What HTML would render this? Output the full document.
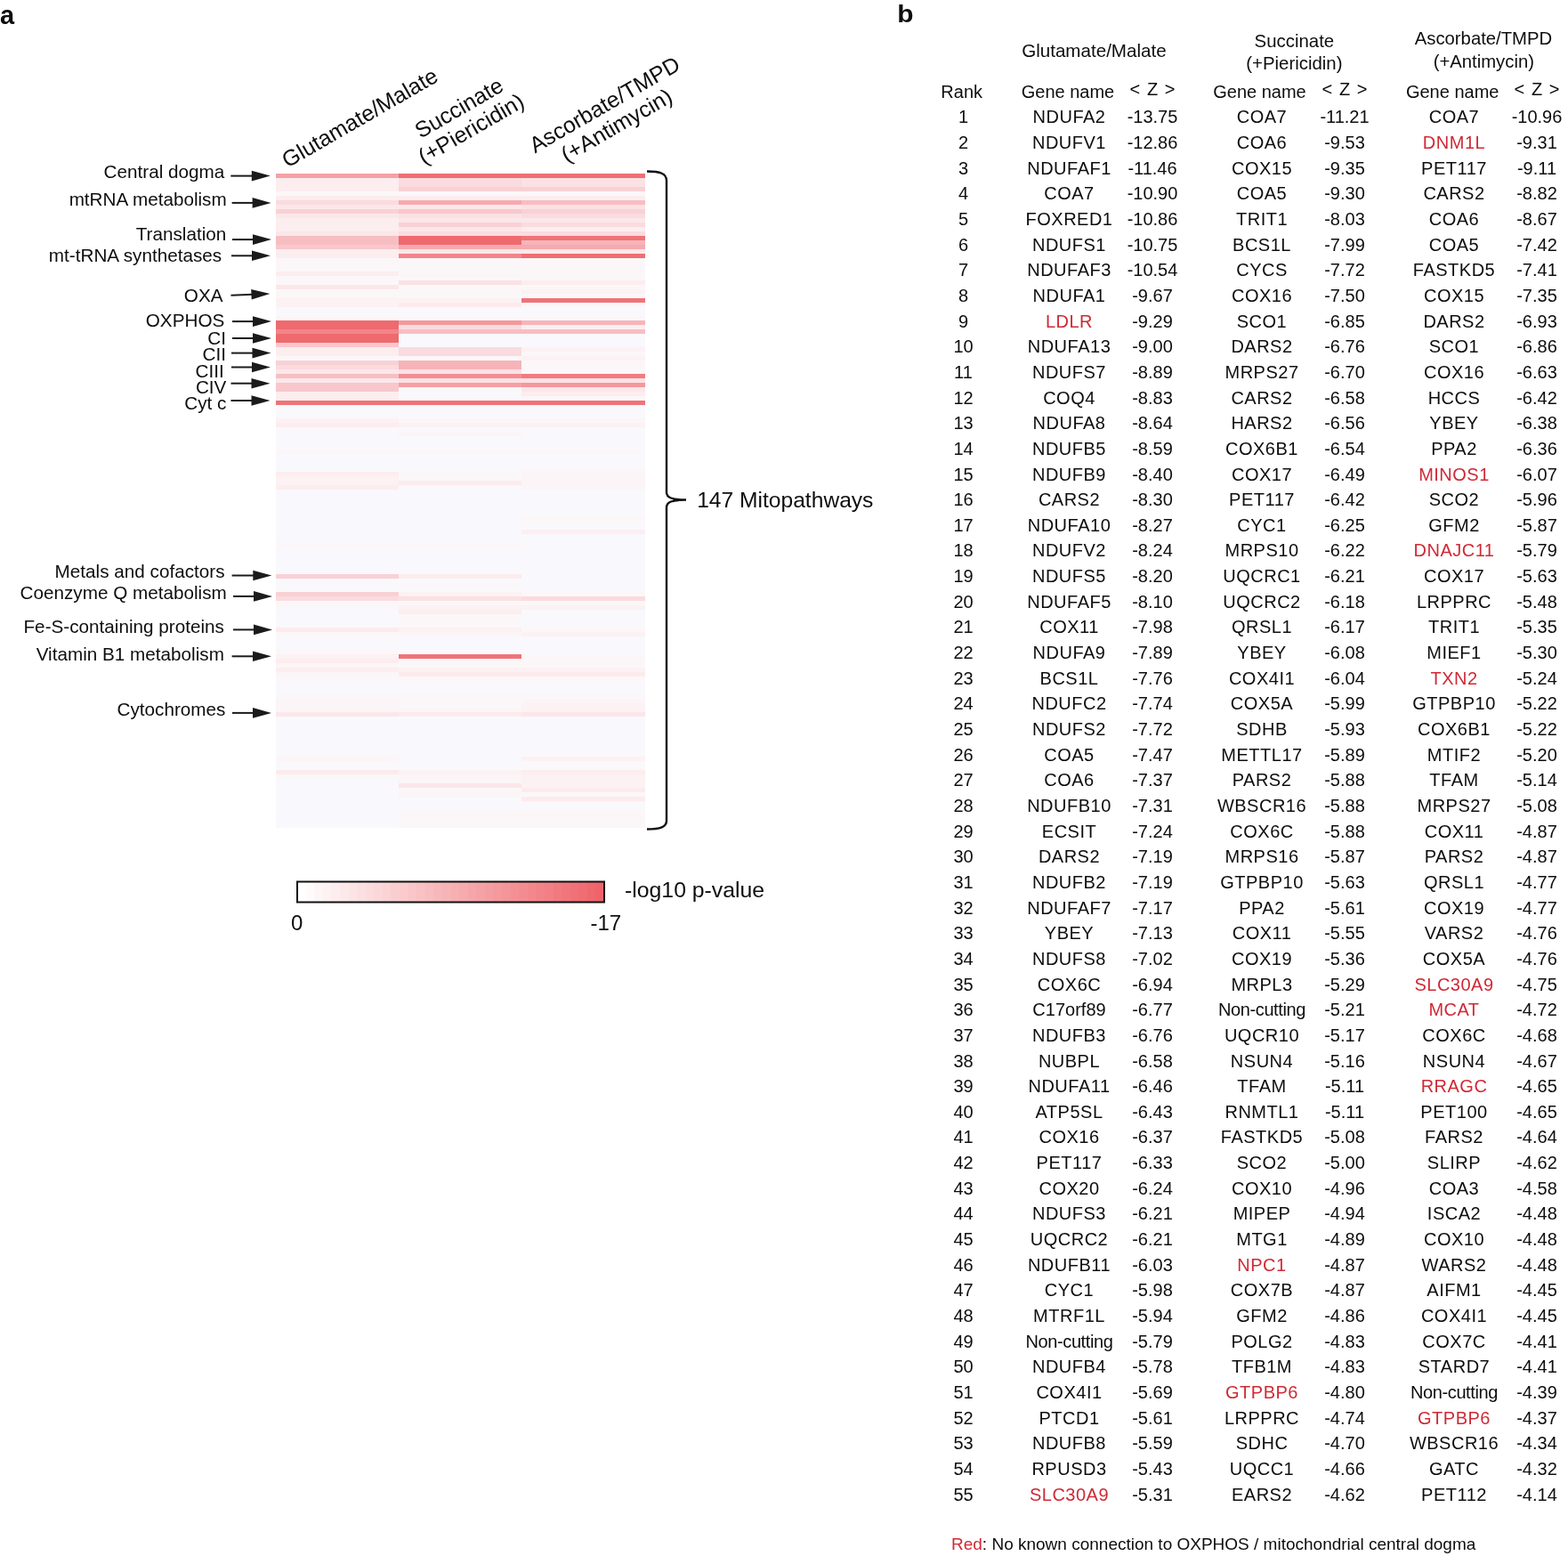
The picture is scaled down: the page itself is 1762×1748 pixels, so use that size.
<!DOCTYPE html><html><head><meta charset="utf-8"><title>Mitopathways figure</title>
<style>html,body{margin:0;padding:0;background:#fff;}svg{display:block;}text{font-family:'Liberation Sans', Arial, Helvetica, sans-serif;fill:#0d0d0d;}</style></head><body>
<svg width="1762" height="1748" viewBox="0 0 1762 1748">
<rect x="0" y="0" width="1762" height="1748" fill="#fff"/>
<text x="0" y="26.9" font-size="29" font-weight="bold">a</text>
<text transform="translate(1008.3 24.9) scale(1.05 1)" font-size="28.5" font-weight="bold">b</text>
<g shape-rendering="crispEdges">
<rect x="310" y="194.5" width="137.5" height="5.0" fill="#f4a1a6"/>
<rect x="447.5" y="194.5" width="138.5" height="5.0" fill="#ef6e72"/>
<rect x="586" y="194.5" width="139" height="5.0" fill="#ef6e72"/>
<rect x="310" y="199.5" width="137.5" height="5.0" fill="#fcedef"/>
<rect x="447.5" y="199.5" width="138.5" height="5.0" fill="#fadbdf"/>
<rect x="586" y="199.5" width="139" height="5.0" fill="#fbe1e4"/>
<rect x="310" y="204.5" width="137.5" height="5.0" fill="#fcedef"/>
<rect x="447.5" y="204.5" width="138.5" height="5.0" fill="#fadbdf"/>
<rect x="586" y="204.5" width="139" height="5.0" fill="#fbe1e4"/>
<rect x="310" y="209.5" width="137.5" height="5.0" fill="#fcedef"/>
<rect x="447.5" y="209.5" width="138.5" height="5.0" fill="#f9d1d5"/>
<rect x="586" y="209.5" width="139" height="5.0" fill="#f9d1d5"/>
<rect x="310" y="214.5" width="137.5" height="5.0" fill="#fbf7f9"/>
<rect x="447.5" y="214.5" width="138.5" height="5.0" fill="#fbf7f9"/>
<rect x="586" y="214.5" width="139" height="5.0" fill="#fbf7f9"/>
<rect x="310" y="219.5" width="137.5" height="5.0" fill="#fcedef"/>
<rect x="447.5" y="219.5" width="138.5" height="5.0" fill="#fcedef"/>
<rect x="586" y="219.5" width="139" height="5.0" fill="#fcedef"/>
<rect x="310" y="224.5" width="137.5" height="5.0" fill="#fadbdf"/>
<rect x="447.5" y="224.5" width="138.5" height="5.0" fill="#f5aaaf"/>
<rect x="586" y="224.5" width="139" height="5.0" fill="#f7bec2"/>
<rect x="310" y="229.5" width="137.5" height="5.0" fill="#fbe7ea"/>
<rect x="447.5" y="229.5" width="138.5" height="5.0" fill="#fbe7ea"/>
<rect x="586" y="229.5" width="139" height="5.0" fill="#fbe1e4"/>
<rect x="310" y="234.5" width="137.5" height="5.0" fill="#f9d1d5"/>
<rect x="447.5" y="234.5" width="138.5" height="5.0" fill="#f8c7cc"/>
<rect x="586" y="234.5" width="139" height="5.0" fill="#f9d1d5"/>
<rect x="310" y="239.5" width="137.5" height="5.0" fill="#fbe7ea"/>
<rect x="447.5" y="239.5" width="138.5" height="5.0" fill="#fbe1e4"/>
<rect x="586" y="239.5" width="139" height="5.0" fill="#fadbdf"/>
<rect x="310" y="244.5" width="137.5" height="5.0" fill="#fcedef"/>
<rect x="447.5" y="244.5" width="138.5" height="5.0" fill="#fbe7ea"/>
<rect x="586" y="244.5" width="139" height="5.0" fill="#fbe7ea"/>
<rect x="310" y="249.5" width="137.5" height="5.0" fill="#fcedef"/>
<rect x="447.5" y="249.5" width="138.5" height="5.0" fill="#f9d1d5"/>
<rect x="586" y="249.5" width="139" height="5.0" fill="#fadbdf"/>
<rect x="310" y="254.5" width="137.5" height="5.0" fill="#fcedef"/>
<rect x="447.5" y="254.5" width="138.5" height="5.0" fill="#fbe7ea"/>
<rect x="586" y="254.5" width="139" height="5.0" fill="#fcedef"/>
<rect x="310" y="259.5" width="137.5" height="5.0" fill="#fbe7ea"/>
<rect x="447.5" y="259.5" width="138.5" height="5.0" fill="#fadbdf"/>
<rect x="586" y="259.5" width="139" height="5.0" fill="#fadbdf"/>
<rect x="310" y="264.5" width="137.5" height="5.0" fill="#f7bec2"/>
<rect x="447.5" y="264.5" width="138.5" height="5.0" fill="#ee6a6e"/>
<rect x="586" y="264.5" width="139" height="5.0" fill="#ef7377"/>
<rect x="310" y="269.5" width="137.5" height="5.0" fill="#f7bec2"/>
<rect x="447.5" y="269.5" width="138.5" height="5.0" fill="#ee6a6e"/>
<rect x="586" y="269.5" width="139" height="5.0" fill="#f6b4b9"/>
<rect x="310" y="274.5" width="137.5" height="5.0" fill="#f8c7cc"/>
<rect x="447.5" y="274.5" width="138.5" height="5.0" fill="#f5aaaf"/>
<rect x="586" y="274.5" width="139" height="5.0" fill="#f5aaaf"/>
<rect x="310" y="279.5" width="137.5" height="5.0" fill="#fcedef"/>
<rect x="447.5" y="279.5" width="138.5" height="5.0" fill="#fbe7ea"/>
<rect x="586" y="279.5" width="139" height="5.0" fill="#fbe7ea"/>
<rect x="310" y="284.5" width="137.5" height="5.0" fill="#fcedef"/>
<rect x="447.5" y="284.5" width="138.5" height="5.0" fill="#f1858a"/>
<rect x="586" y="284.5" width="139" height="5.0" fill="#ef6e72"/>
<rect x="310" y="289.5" width="137.5" height="5.0" fill="#fbf7f9"/>
<rect x="447.5" y="289.5" width="138.5" height="5.0" fill="#fbf7f9"/>
<rect x="586" y="289.5" width="139" height="5.0" fill="#fbf7f9"/>
<rect x="310" y="294.5" width="137.5" height="5.0" fill="#fbf7f9"/>
<rect x="447.5" y="294.5" width="138.5" height="5.0" fill="#fbf7f9"/>
<rect x="586" y="294.5" width="139" height="5.0" fill="#fbf7f9"/>
<rect x="310" y="299.5" width="137.5" height="5.0" fill="#fbf7f9"/>
<rect x="447.5" y="299.5" width="138.5" height="5.0" fill="#fbf7f9"/>
<rect x="586" y="299.5" width="139" height="5.0" fill="#fbf7f9"/>
<rect x="310" y="304.5" width="137.5" height="5.0" fill="#fcedef"/>
<rect x="447.5" y="304.5" width="138.5" height="5.0" fill="#fbf7f9"/>
<rect x="586" y="304.5" width="139" height="5.0" fill="#fbf7f9"/>
<rect x="310" y="309.5" width="137.5" height="5.0" fill="#fbf7f9"/>
<rect x="447.5" y="309.5" width="138.5" height="5.0" fill="#fbf7f9"/>
<rect x="586" y="309.5" width="139" height="5.0" fill="#fbf7f9"/>
<rect x="310" y="314.5" width="137.5" height="5.0" fill="#fbf7f9"/>
<rect x="447.5" y="314.5" width="138.5" height="5.0" fill="#fbe1e4"/>
<rect x="586" y="314.5" width="139" height="5.0" fill="#fcedef"/>
<rect x="310" y="319.5" width="137.5" height="5.0" fill="#fbe7ea"/>
<rect x="447.5" y="319.5" width="138.5" height="5.0" fill="#fbf7f9"/>
<rect x="586" y="319.5" width="139" height="5.0" fill="#fbf7f9"/>
<rect x="310" y="324.5" width="137.5" height="5.0" fill="#fbf7f9"/>
<rect x="447.5" y="324.5" width="138.5" height="5.0" fill="#fbf7f9"/>
<rect x="586" y="324.5" width="139" height="5.0" fill="#fcf1f3"/>
<rect x="310" y="329.5" width="137.5" height="5.0" fill="#fbf7f9"/>
<rect x="447.5" y="329.5" width="138.5" height="5.0" fill="#fbf7f9"/>
<rect x="586" y="329.5" width="139" height="5.0" fill="#fbf7f9"/>
<rect x="310" y="334.5" width="137.5" height="5.0" fill="#fcf1f3"/>
<rect x="447.5" y="334.5" width="138.5" height="5.0" fill="#fcf1f3"/>
<rect x="586" y="334.5" width="139" height="5.0" fill="#ef7377"/>
<rect x="310" y="339.5" width="137.5" height="5.0" fill="#fcf1f3"/>
<rect x="447.5" y="339.5" width="138.5" height="5.0" fill="#fcebed"/>
<rect x="586" y="339.5" width="139" height="5.0" fill="#fbf7f9"/>
<rect x="310" y="344.5" width="137.5" height="5.0" fill="#f9f8fc"/>
<rect x="447.5" y="344.5" width="138.5" height="5.0" fill="#f9f8fc"/>
<rect x="586" y="344.5" width="139" height="5.0" fill="#f9f8fc"/>
<rect x="310" y="349.5" width="137.5" height="5.0" fill="#f9f8fc"/>
<rect x="447.5" y="349.5" width="138.5" height="5.0" fill="#f9f8fc"/>
<rect x="586" y="349.5" width="139" height="5.0" fill="#f9f8fc"/>
<rect x="310" y="354.5" width="137.5" height="5.0" fill="#fbf7f9"/>
<rect x="447.5" y="354.5" width="138.5" height="5.0" fill="#fbf7f9"/>
<rect x="586" y="354.5" width="139" height="5.0" fill="#fbf7f9"/>
<rect x="310" y="359.5" width="137.5" height="5.0" fill="#ee6a6e"/>
<rect x="447.5" y="359.5" width="138.5" height="5.0" fill="#f3989c"/>
<rect x="586" y="359.5" width="139" height="5.0" fill="#f6b4b9"/>
<rect x="310" y="364.5" width="137.5" height="5.0" fill="#ee6a6e"/>
<rect x="447.5" y="364.5" width="138.5" height="5.0" fill="#fadbdf"/>
<rect x="586" y="364.5" width="139" height="5.0" fill="#fcedef"/>
<rect x="310" y="369.5" width="137.5" height="5.0" fill="#f1858a"/>
<rect x="447.5" y="369.5" width="138.5" height="5.0" fill="#f7bec2"/>
<rect x="586" y="369.5" width="139" height="5.0" fill="#f7bec2"/>
<rect x="310" y="374.5" width="137.5" height="5.0" fill="#ee6a6e"/>
<rect x="447.5" y="374.5" width="138.5" height="5.0" fill="#f9f8fc"/>
<rect x="586" y="374.5" width="139" height="5.0" fill="#f9f8fc"/>
<rect x="310" y="379.5" width="137.5" height="5.0" fill="#ee6a6e"/>
<rect x="447.5" y="379.5" width="138.5" height="5.0" fill="#f9f8fc"/>
<rect x="586" y="379.5" width="139" height="5.0" fill="#f9f8fc"/>
<rect x="310" y="384.5" width="137.5" height="5.0" fill="#f8c7cc"/>
<rect x="447.5" y="384.5" width="138.5" height="5.0" fill="#f9f8fc"/>
<rect x="586" y="384.5" width="139" height="5.0" fill="#f9f8fc"/>
<rect x="310" y="389.5" width="137.5" height="5.0" fill="#fcedef"/>
<rect x="447.5" y="389.5" width="138.5" height="5.0" fill="#fadbdf"/>
<rect x="586" y="389.5" width="139" height="5.0" fill="#fcf1f3"/>
<rect x="310" y="394.5" width="137.5" height="5.0" fill="#fcedef"/>
<rect x="447.5" y="394.5" width="138.5" height="5.0" fill="#fadbdf"/>
<rect x="586" y="394.5" width="139" height="5.0" fill="#fbf7f9"/>
<rect x="310" y="399.5" width="137.5" height="5.0" fill="#fbf7f9"/>
<rect x="447.5" y="399.5" width="138.5" height="5.0" fill="#fbf7f9"/>
<rect x="586" y="399.5" width="139" height="5.0" fill="#fcf1f3"/>
<rect x="310" y="404.5" width="137.5" height="5.0" fill="#f9d1d5"/>
<rect x="447.5" y="404.5" width="138.5" height="5.0" fill="#f6b4b9"/>
<rect x="586" y="404.5" width="139" height="5.0" fill="#fbf7f9"/>
<rect x="310" y="409.5" width="137.5" height="5.0" fill="#fadbdf"/>
<rect x="447.5" y="409.5" width="138.5" height="5.0" fill="#f6b4b9"/>
<rect x="586" y="409.5" width="139" height="5.0" fill="#fbf7f9"/>
<rect x="310" y="414.5" width="137.5" height="5.0" fill="#fbe7ea"/>
<rect x="447.5" y="414.5" width="138.5" height="5.0" fill="#fbe1e4"/>
<rect x="586" y="414.5" width="139" height="5.0" fill="#fbf7f9"/>
<rect x="310" y="419.5" width="137.5" height="5.0" fill="#f7bec2"/>
<rect x="447.5" y="419.5" width="138.5" height="5.0" fill="#f28e93"/>
<rect x="586" y="419.5" width="139" height="5.0" fill="#f07c80"/>
<rect x="310" y="424.5" width="137.5" height="5.0" fill="#fbe7ea"/>
<rect x="447.5" y="424.5" width="138.5" height="5.0" fill="#fbe1e4"/>
<rect x="586" y="424.5" width="139" height="5.0" fill="#fbe1e4"/>
<rect x="310" y="429.5" width="137.5" height="5.0" fill="#f8c7cc"/>
<rect x="447.5" y="429.5" width="138.5" height="5.0" fill="#f4a1a6"/>
<rect x="586" y="429.5" width="139" height="5.0" fill="#f3989c"/>
<rect x="310" y="434.5" width="137.5" height="5.0" fill="#f8c7cc"/>
<rect x="447.5" y="434.5" width="138.5" height="5.0" fill="#fbf7f9"/>
<rect x="586" y="434.5" width="139" height="5.0" fill="#fbe7ea"/>
<rect x="310" y="439.5" width="137.5" height="5.0" fill="#fcedef"/>
<rect x="447.5" y="439.5" width="138.5" height="5.0" fill="#f9f8fc"/>
<rect x="586" y="439.5" width="139" height="5.0" fill="#fcedef"/>
<rect x="310" y="444.5" width="137.5" height="5.0" fill="#fcedef"/>
<rect x="447.5" y="444.5" width="138.5" height="5.0" fill="#f9f8fc"/>
<rect x="586" y="444.5" width="139" height="5.0" fill="#fbf7f9"/>
<rect x="310" y="449.5" width="137.5" height="5.0" fill="#ef7377"/>
<rect x="447.5" y="449.5" width="138.5" height="5.0" fill="#ef7377"/>
<rect x="586" y="449.5" width="139" height="5.0" fill="#ef7377"/>
<rect x="310" y="454.5" width="137.5" height="5.0" fill="#f9f8fc"/>
<rect x="447.5" y="454.5" width="138.5" height="5.0" fill="#f9f8fc"/>
<rect x="586" y="454.5" width="139" height="5.0" fill="#f9f8fc"/>
<rect x="310" y="459.5" width="137.5" height="5.0" fill="#f9f8fc"/>
<rect x="447.5" y="459.5" width="138.5" height="5.0" fill="#f9f8fc"/>
<rect x="586" y="459.5" width="139" height="5.0" fill="#f9f8fc"/>
<rect x="310" y="464.5" width="137.5" height="5.0" fill="#f9f8fc"/>
<rect x="447.5" y="464.5" width="138.5" height="5.0" fill="#f9f8fc"/>
<rect x="586" y="464.5" width="139" height="5.0" fill="#f9f8fc"/>
<rect x="310" y="469.5" width="137.5" height="5.0" fill="#fcf1f3"/>
<rect x="447.5" y="469.5" width="138.5" height="5.0" fill="#fbf7f9"/>
<rect x="586" y="469.5" width="139" height="5.0" fill="#fbf7f9"/>
<rect x="310" y="474.5" width="137.5" height="5.0" fill="#fcedef"/>
<rect x="447.5" y="474.5" width="138.5" height="5.0" fill="#fcf1f3"/>
<rect x="586" y="474.5" width="139" height="5.0" fill="#fcf1f3"/>
<rect x="310" y="479.5" width="137.5" height="5.0" fill="#f9f8fc"/>
<rect x="447.5" y="479.5" width="138.5" height="5.0" fill="#f9f8fc"/>
<rect x="586" y="479.5" width="139" height="5.0" fill="#f9f8fc"/>
<rect x="310" y="484.5" width="137.5" height="5.0" fill="#f9f8fc"/>
<rect x="447.5" y="484.5" width="138.5" height="5.0" fill="#fbf5f7"/>
<rect x="586" y="484.5" width="139" height="5.0" fill="#f9f8fc"/>
<rect x="310" y="489.5" width="137.5" height="5.0" fill="#f9f8fc"/>
<rect x="447.5" y="489.5" width="138.5" height="5.0" fill="#f9f8fc"/>
<rect x="586" y="489.5" width="139" height="5.0" fill="#f9f8fc"/>
<rect x="310" y="494.5" width="137.5" height="5.0" fill="#f9f8fc"/>
<rect x="447.5" y="494.5" width="138.5" height="5.0" fill="#f9f8fc"/>
<rect x="586" y="494.5" width="139" height="5.0" fill="#f9f8fc"/>
<rect x="310" y="499.5" width="137.5" height="5.0" fill="#f9f8fc"/>
<rect x="447.5" y="499.5" width="138.5" height="5.0" fill="#f9f8fc"/>
<rect x="586" y="499.5" width="139" height="5.0" fill="#f9f8fc"/>
<rect x="310" y="504.5" width="137.5" height="5.0" fill="#fbf7f9"/>
<rect x="447.5" y="504.5" width="138.5" height="5.0" fill="#fbf7f9"/>
<rect x="586" y="504.5" width="139" height="5.0" fill="#fbf7f9"/>
<rect x="310" y="509.5" width="137.5" height="5.0" fill="#f9f8fc"/>
<rect x="447.5" y="509.5" width="138.5" height="5.0" fill="#f9f8fc"/>
<rect x="586" y="509.5" width="139" height="5.0" fill="#f9f8fc"/>
<rect x="310" y="514.5" width="137.5" height="5.0" fill="#f9f8fc"/>
<rect x="447.5" y="514.5" width="138.5" height="5.0" fill="#f9f8fc"/>
<rect x="586" y="514.5" width="139" height="5.0" fill="#f9f8fc"/>
<rect x="310" y="519.5" width="137.5" height="5.0" fill="#f9f8fc"/>
<rect x="447.5" y="519.5" width="138.5" height="5.0" fill="#f9f8fc"/>
<rect x="586" y="519.5" width="139" height="5.0" fill="#f9f8fc"/>
<rect x="310" y="524.5" width="137.5" height="5.0" fill="#f9f8fc"/>
<rect x="447.5" y="524.5" width="138.5" height="5.0" fill="#f9f8fc"/>
<rect x="586" y="524.5" width="139" height="5.0" fill="#fbf7f9"/>
<rect x="310" y="529.5" width="137.5" height="5.0" fill="#fcedef"/>
<rect x="447.5" y="529.5" width="138.5" height="5.0" fill="#fbf7f9"/>
<rect x="586" y="529.5" width="139" height="5.0" fill="#fbf5f7"/>
<rect x="310" y="534.5" width="137.5" height="5.0" fill="#fcf1f3"/>
<rect x="447.5" y="534.5" width="138.5" height="5.0" fill="#fbf7f9"/>
<rect x="586" y="534.5" width="139" height="5.0" fill="#fbf5f7"/>
<rect x="310" y="539.5" width="137.5" height="5.0" fill="#fcf1f3"/>
<rect x="447.5" y="539.5" width="138.5" height="5.0" fill="#fcebed"/>
<rect x="586" y="539.5" width="139" height="5.0" fill="#fbf5f7"/>
<rect x="310" y="544.5" width="137.5" height="5.0" fill="#fcedef"/>
<rect x="447.5" y="544.5" width="138.5" height="5.0" fill="#f9f8fc"/>
<rect x="586" y="544.5" width="139" height="5.0" fill="#fbf5f7"/>
<rect x="310" y="549.5" width="137.5" height="5.0" fill="#f9f8fc"/>
<rect x="447.5" y="549.5" width="138.5" height="5.0" fill="#f9f8fc"/>
<rect x="586" y="549.5" width="139" height="5.0" fill="#f9f8fc"/>
<rect x="310" y="554.5" width="137.5" height="5.0" fill="#f9f8fc"/>
<rect x="447.5" y="554.5" width="138.5" height="5.0" fill="#f9f8fc"/>
<rect x="586" y="554.5" width="139" height="5.0" fill="#f9f8fc"/>
<rect x="310" y="559.5" width="137.5" height="5.0" fill="#f9f8fc"/>
<rect x="447.5" y="559.5" width="138.5" height="5.0" fill="#f9f8fc"/>
<rect x="586" y="559.5" width="139" height="5.0" fill="#f9f8fc"/>
<rect x="310" y="564.5" width="137.5" height="5.0" fill="#f9f8fc"/>
<rect x="447.5" y="564.5" width="138.5" height="5.0" fill="#f9f8fc"/>
<rect x="586" y="564.5" width="139" height="5.0" fill="#f9f8fc"/>
<rect x="310" y="569.5" width="137.5" height="5.0" fill="#f9f8fc"/>
<rect x="447.5" y="569.5" width="138.5" height="5.0" fill="#f9f8fc"/>
<rect x="586" y="569.5" width="139" height="5.0" fill="#f9f8fc"/>
<rect x="310" y="574.5" width="137.5" height="5.0" fill="#f9f8fc"/>
<rect x="447.5" y="574.5" width="138.5" height="5.0" fill="#f9f8fc"/>
<rect x="586" y="574.5" width="139" height="5.0" fill="#f9f8fc"/>
<rect x="310" y="579.5" width="137.5" height="5.0" fill="#f9f8fc"/>
<rect x="447.5" y="579.5" width="138.5" height="5.0" fill="#f9f8fc"/>
<rect x="586" y="579.5" width="139" height="5.0" fill="#fbf7f9"/>
<rect x="310" y="584.5" width="137.5" height="5.0" fill="#f9f8fc"/>
<rect x="447.5" y="584.5" width="138.5" height="5.0" fill="#f9f8fc"/>
<rect x="586" y="584.5" width="139" height="5.0" fill="#faf8fb"/>
<rect x="310" y="589.5" width="137.5" height="5.0" fill="#f9f8fc"/>
<rect x="447.5" y="589.5" width="138.5" height="5.0" fill="#f9f8fc"/>
<rect x="586" y="589.5" width="139" height="5.0" fill="#faf8fb"/>
<rect x="310" y="594.5" width="137.5" height="5.0" fill="#f9f8fc"/>
<rect x="447.5" y="594.5" width="138.5" height="5.0" fill="#f9f8fc"/>
<rect x="586" y="594.5" width="139" height="5.0" fill="#fceff1"/>
<rect x="310" y="599.5" width="137.5" height="5.0" fill="#f9f8fc"/>
<rect x="447.5" y="599.5" width="138.5" height="5.0" fill="#f9f8fc"/>
<rect x="586" y="599.5" width="139" height="5.0" fill="#f9f8fc"/>
<rect x="310" y="604.5" width="137.5" height="5.0" fill="#f9f8fc"/>
<rect x="447.5" y="604.5" width="138.5" height="5.0" fill="#f9f8fc"/>
<rect x="586" y="604.5" width="139" height="5.0" fill="#f9f8fc"/>
<rect x="310" y="609.5" width="137.5" height="5.0" fill="#fbf7f9"/>
<rect x="447.5" y="609.5" width="138.5" height="5.0" fill="#fbf7f9"/>
<rect x="586" y="609.5" width="139" height="5.0" fill="#faf8fb"/>
<rect x="310" y="614.5" width="137.5" height="5.0" fill="#f9f8fc"/>
<rect x="447.5" y="614.5" width="138.5" height="5.0" fill="#f9f8fc"/>
<rect x="586" y="614.5" width="139" height="5.0" fill="#f9f8fc"/>
<rect x="310" y="619.5" width="137.5" height="5.0" fill="#f9f8fc"/>
<rect x="447.5" y="619.5" width="138.5" height="5.0" fill="#f9f8fc"/>
<rect x="586" y="619.5" width="139" height="5.0" fill="#f9f8fc"/>
<rect x="310" y="624.5" width="137.5" height="5.0" fill="#f9f8fc"/>
<rect x="447.5" y="624.5" width="138.5" height="5.0" fill="#f9f8fc"/>
<rect x="586" y="624.5" width="139" height="5.0" fill="#f9f8fc"/>
<rect x="310" y="629.5" width="137.5" height="5.0" fill="#f9f8fc"/>
<rect x="447.5" y="629.5" width="138.5" height="5.0" fill="#f9f8fc"/>
<rect x="586" y="629.5" width="139" height="5.0" fill="#f9f8fc"/>
<rect x="310" y="634.5" width="137.5" height="5.0" fill="#f9f8fc"/>
<rect x="447.5" y="634.5" width="138.5" height="5.0" fill="#f9f8fc"/>
<rect x="586" y="634.5" width="139" height="5.0" fill="#f9f8fc"/>
<rect x="310" y="639.5" width="137.5" height="5.0" fill="#f9f8fc"/>
<rect x="447.5" y="639.5" width="138.5" height="5.0" fill="#f9f8fc"/>
<rect x="586" y="639.5" width="139" height="5.0" fill="#f9f8fc"/>
<rect x="310" y="644.5" width="137.5" height="5.0" fill="#f9d1d5"/>
<rect x="447.5" y="644.5" width="138.5" height="5.0" fill="#fcebed"/>
<rect x="586" y="644.5" width="139" height="5.0" fill="#f9f8fc"/>
<rect x="310" y="649.5" width="137.5" height="5.0" fill="#f9f8fc"/>
<rect x="447.5" y="649.5" width="138.5" height="5.0" fill="#f9f8fc"/>
<rect x="586" y="649.5" width="139" height="5.0" fill="#f9f8fc"/>
<rect x="310" y="654.5" width="137.5" height="5.0" fill="#f9f8fc"/>
<rect x="447.5" y="654.5" width="138.5" height="5.0" fill="#fbf7f9"/>
<rect x="586" y="654.5" width="139" height="5.0" fill="#f9f8fc"/>
<rect x="310" y="659.5" width="137.5" height="5.0" fill="#faf8fb"/>
<rect x="447.5" y="659.5" width="138.5" height="5.0" fill="#faf8fb"/>
<rect x="586" y="659.5" width="139" height="5.0" fill="#faf8fb"/>
<rect x="310" y="664.5" width="137.5" height="5.0" fill="#f9d1d5"/>
<rect x="447.5" y="664.5" width="138.5" height="5.0" fill="#fcf1f3"/>
<rect x="586" y="664.5" width="139" height="5.0" fill="#fbf7f9"/>
<rect x="310" y="669.5" width="137.5" height="5.0" fill="#fadbdf"/>
<rect x="447.5" y="669.5" width="138.5" height="5.0" fill="#fbe1e4"/>
<rect x="586" y="669.5" width="139" height="5.0" fill="#fadbdf"/>
<rect x="310" y="674.5" width="137.5" height="5.0" fill="#fbf7f9"/>
<rect x="447.5" y="674.5" width="138.5" height="5.0" fill="#fbf7f9"/>
<rect x="586" y="674.5" width="139" height="5.0" fill="#fbf7f9"/>
<rect x="310" y="679.5" width="137.5" height="5.0" fill="#fbf7f9"/>
<rect x="447.5" y="679.5" width="138.5" height="5.0" fill="#fcf1f3"/>
<rect x="586" y="679.5" width="139" height="5.0" fill="#fcf1f3"/>
<rect x="310" y="684.5" width="137.5" height="5.0" fill="#f9f8fc"/>
<rect x="447.5" y="684.5" width="138.5" height="5.0" fill="#fcedef"/>
<rect x="586" y="684.5" width="139" height="5.0" fill="#f9f8fc"/>
<rect x="310" y="689.5" width="137.5" height="5.0" fill="#f9f8fc"/>
<rect x="447.5" y="689.5" width="138.5" height="5.0" fill="#fbf7f9"/>
<rect x="586" y="689.5" width="139" height="5.0" fill="#f9f8fc"/>
<rect x="310" y="694.5" width="137.5" height="5.0" fill="#f9f8fc"/>
<rect x="447.5" y="694.5" width="138.5" height="5.0" fill="#fbf7f9"/>
<rect x="586" y="694.5" width="139" height="5.0" fill="#f9f8fc"/>
<rect x="310" y="699.5" width="137.5" height="5.0" fill="#f9f8fc"/>
<rect x="447.5" y="699.5" width="138.5" height="5.0" fill="#fbf7f9"/>
<rect x="586" y="699.5" width="139" height="5.0" fill="#f9f8fc"/>
<rect x="310" y="704.5" width="137.5" height="5.0" fill="#fcebed"/>
<rect x="447.5" y="704.5" width="138.5" height="5.0" fill="#fcf1f3"/>
<rect x="586" y="704.5" width="139" height="5.0" fill="#fbf7f9"/>
<rect x="310" y="709.5" width="137.5" height="5.0" fill="#fbf7f9"/>
<rect x="447.5" y="709.5" width="138.5" height="5.0" fill="#fbf5f7"/>
<rect x="586" y="709.5" width="139" height="5.0" fill="#fcf1f3"/>
<rect x="310" y="714.5" width="137.5" height="5.0" fill="#f9f8fc"/>
<rect x="447.5" y="714.5" width="138.5" height="5.0" fill="#f9f8fc"/>
<rect x="586" y="714.5" width="139" height="5.0" fill="#f9f8fc"/>
<rect x="310" y="719.5" width="137.5" height="5.0" fill="#f9f8fc"/>
<rect x="447.5" y="719.5" width="138.5" height="5.0" fill="#f9f8fc"/>
<rect x="586" y="719.5" width="139" height="5.0" fill="#f9f8fc"/>
<rect x="310" y="724.5" width="137.5" height="5.0" fill="#f9f8fc"/>
<rect x="447.5" y="724.5" width="138.5" height="5.0" fill="#f9f8fc"/>
<rect x="586" y="724.5" width="139" height="5.0" fill="#f9f8fc"/>
<rect x="310" y="729.5" width="137.5" height="5.0" fill="#fbf7f9"/>
<rect x="447.5" y="729.5" width="138.5" height="5.0" fill="#f9f8fc"/>
<rect x="586" y="729.5" width="139" height="5.0" fill="#f9f8fc"/>
<rect x="310" y="734.5" width="137.5" height="5.0" fill="#fcf1f3"/>
<rect x="447.5" y="734.5" width="138.5" height="5.0" fill="#ef7377"/>
<rect x="586" y="734.5" width="139" height="5.0" fill="#fbf7f9"/>
<rect x="310" y="739.5" width="137.5" height="5.0" fill="#fcedef"/>
<rect x="447.5" y="739.5" width="138.5" height="5.0" fill="#fbf7f9"/>
<rect x="586" y="739.5" width="139" height="5.0" fill="#fbf7f9"/>
<rect x="310" y="744.5" width="137.5" height="5.0" fill="#fbf5f7"/>
<rect x="447.5" y="744.5" width="138.5" height="5.0" fill="#fbf7f9"/>
<rect x="586" y="744.5" width="139" height="5.0" fill="#fbf7f9"/>
<rect x="310" y="749.5" width="137.5" height="5.0" fill="#fcedef"/>
<rect x="447.5" y="749.5" width="138.5" height="5.0" fill="#fcf1f3"/>
<rect x="586" y="749.5" width="139" height="5.0" fill="#fcf1f3"/>
<rect x="310" y="754.5" width="137.5" height="5.0" fill="#fbf5f7"/>
<rect x="447.5" y="754.5" width="138.5" height="5.0" fill="#fcebed"/>
<rect x="586" y="754.5" width="139" height="5.0" fill="#fcebed"/>
<rect x="310" y="759.5" width="137.5" height="5.0" fill="#fbf7f9"/>
<rect x="447.5" y="759.5" width="138.5" height="5.0" fill="#fbf7f9"/>
<rect x="586" y="759.5" width="139" height="5.0" fill="#fbf7f9"/>
<rect x="310" y="764.5" width="137.5" height="5.0" fill="#faf8fb"/>
<rect x="447.5" y="764.5" width="138.5" height="5.0" fill="#faf8fb"/>
<rect x="586" y="764.5" width="139" height="5.0" fill="#faf8fb"/>
<rect x="310" y="769.5" width="137.5" height="5.0" fill="#f9f8fc"/>
<rect x="447.5" y="769.5" width="138.5" height="5.0" fill="#f9f8fc"/>
<rect x="586" y="769.5" width="139" height="5.0" fill="#f9f8fc"/>
<rect x="310" y="774.5" width="137.5" height="5.0" fill="#f9f8fc"/>
<rect x="447.5" y="774.5" width="138.5" height="5.0" fill="#f9f8fc"/>
<rect x="586" y="774.5" width="139" height="5.0" fill="#f9f8fc"/>
<rect x="310" y="779.5" width="137.5" height="5.0" fill="#fbf7f9"/>
<rect x="447.5" y="779.5" width="138.5" height="5.0" fill="#fbf7f9"/>
<rect x="586" y="779.5" width="139" height="5.0" fill="#fbf7f9"/>
<rect x="310" y="784.5" width="137.5" height="5.0" fill="#fbf5f7"/>
<rect x="447.5" y="784.5" width="138.5" height="5.0" fill="#fbf7f9"/>
<rect x="586" y="784.5" width="139" height="5.0" fill="#fbf5f7"/>
<rect x="310" y="789.5" width="137.5" height="5.0" fill="#fbf5f7"/>
<rect x="447.5" y="789.5" width="138.5" height="5.0" fill="#fbf7f9"/>
<rect x="586" y="789.5" width="139" height="5.0" fill="#fcf1f3"/>
<rect x="310" y="794.5" width="137.5" height="5.0" fill="#fbf5f7"/>
<rect x="447.5" y="794.5" width="138.5" height="5.0" fill="#fbf5f7"/>
<rect x="586" y="794.5" width="139" height="5.0" fill="#fcf1f3"/>
<rect x="310" y="799.5" width="137.5" height="5.0" fill="#fbe7ea"/>
<rect x="447.5" y="799.5" width="138.5" height="5.0" fill="#fcebed"/>
<rect x="586" y="799.5" width="139" height="5.0" fill="#fbe7ea"/>
<rect x="310" y="804.5" width="137.5" height="5.0" fill="#f9f8fc"/>
<rect x="447.5" y="804.5" width="138.5" height="5.0" fill="#f9f8fc"/>
<rect x="586" y="804.5" width="139" height="5.0" fill="#f9f8fc"/>
<rect x="310" y="809.5" width="137.5" height="5.0" fill="#f9f8fc"/>
<rect x="447.5" y="809.5" width="138.5" height="5.0" fill="#f9f8fc"/>
<rect x="586" y="809.5" width="139" height="5.0" fill="#f9f8fc"/>
<rect x="310" y="814.5" width="137.5" height="5.0" fill="#f9f8fc"/>
<rect x="447.5" y="814.5" width="138.5" height="5.0" fill="#f9f8fc"/>
<rect x="586" y="814.5" width="139" height="5.0" fill="#f9f8fc"/>
<rect x="310" y="819.5" width="137.5" height="5.0" fill="#f9f8fc"/>
<rect x="447.5" y="819.5" width="138.5" height="5.0" fill="#f9f8fc"/>
<rect x="586" y="819.5" width="139" height="5.0" fill="#f9f8fc"/>
<rect x="310" y="824.5" width="137.5" height="5.0" fill="#f9f8fc"/>
<rect x="447.5" y="824.5" width="138.5" height="5.0" fill="#f9f8fc"/>
<rect x="586" y="824.5" width="139" height="5.0" fill="#f9f8fc"/>
<rect x="310" y="829.5" width="137.5" height="5.0" fill="#f9f8fc"/>
<rect x="447.5" y="829.5" width="138.5" height="5.0" fill="#f9f8fc"/>
<rect x="586" y="829.5" width="139" height="5.0" fill="#f9f8fc"/>
<rect x="310" y="834.5" width="137.5" height="5.0" fill="#f9f8fc"/>
<rect x="447.5" y="834.5" width="138.5" height="5.0" fill="#f9f8fc"/>
<rect x="586" y="834.5" width="139" height="5.0" fill="#f9f8fc"/>
<rect x="310" y="839.5" width="137.5" height="5.0" fill="#f9f8fc"/>
<rect x="447.5" y="839.5" width="138.5" height="5.0" fill="#f9f8fc"/>
<rect x="586" y="839.5" width="139" height="5.0" fill="#f9f8fc"/>
<rect x="310" y="844.5" width="137.5" height="5.0" fill="#f9f8fc"/>
<rect x="447.5" y="844.5" width="138.5" height="5.0" fill="#f9f8fc"/>
<rect x="586" y="844.5" width="139" height="5.0" fill="#f9f8fc"/>
<rect x="310" y="849.5" width="137.5" height="5.0" fill="#fbf5f7"/>
<rect x="447.5" y="849.5" width="138.5" height="5.0" fill="#f9f8fc"/>
<rect x="586" y="849.5" width="139" height="5.0" fill="#fcf1f3"/>
<rect x="310" y="854.5" width="137.5" height="5.0" fill="#faf8fb"/>
<rect x="447.5" y="854.5" width="138.5" height="5.0" fill="#f9f8fc"/>
<rect x="586" y="854.5" width="139" height="5.0" fill="#faf8fb"/>
<rect x="310" y="859.5" width="137.5" height="5.0" fill="#faf8fb"/>
<rect x="447.5" y="859.5" width="138.5" height="5.0" fill="#faf8fb"/>
<rect x="586" y="859.5" width="139" height="5.0" fill="#faf8fb"/>
<rect x="310" y="864.5" width="137.5" height="5.0" fill="#fcebed"/>
<rect x="447.5" y="864.5" width="138.5" height="5.0" fill="#fcf1f3"/>
<rect x="586" y="864.5" width="139" height="5.0" fill="#fcedef"/>
<rect x="310" y="869.5" width="137.5" height="5.0" fill="#fbf7f9"/>
<rect x="447.5" y="869.5" width="138.5" height="5.0" fill="#fbf5f7"/>
<rect x="586" y="869.5" width="139" height="5.0" fill="#fcf1f3"/>
<rect x="310" y="874.5" width="137.5" height="5.0" fill="#f9f8fc"/>
<rect x="447.5" y="874.5" width="138.5" height="5.0" fill="#fbf5f7"/>
<rect x="586" y="874.5" width="139" height="5.0" fill="#fcf1f3"/>
<rect x="310" y="879.5" width="137.5" height="5.0" fill="#faf8fb"/>
<rect x="447.5" y="879.5" width="138.5" height="5.0" fill="#fbe7ea"/>
<rect x="586" y="879.5" width="139" height="5.0" fill="#fcf1f3"/>
<rect x="310" y="884.5" width="137.5" height="5.0" fill="#f9f8fc"/>
<rect x="447.5" y="884.5" width="138.5" height="5.0" fill="#fbf7f9"/>
<rect x="586" y="884.5" width="139" height="5.0" fill="#fcebed"/>
<rect x="310" y="889.5" width="137.5" height="5.0" fill="#f9f8fc"/>
<rect x="447.5" y="889.5" width="138.5" height="5.0" fill="#fbf5f7"/>
<rect x="586" y="889.5" width="139" height="5.0" fill="#fbf7f9"/>
<rect x="310" y="894.5" width="137.5" height="5.0" fill="#f9f8fc"/>
<rect x="447.5" y="894.5" width="138.5" height="5.0" fill="#f9f8fc"/>
<rect x="586" y="894.5" width="139" height="5.0" fill="#fcebed"/>
<rect x="310" y="899.5" width="137.5" height="5.0" fill="#f9f8fc"/>
<rect x="447.5" y="899.5" width="138.5" height="5.0" fill="#f9f8fc"/>
<rect x="586" y="899.5" width="139" height="5.0" fill="#f9f8fc"/>
<rect x="310" y="904.5" width="137.5" height="5.0" fill="#f9f8fc"/>
<rect x="447.5" y="904.5" width="138.5" height="5.0" fill="#f9f8fc"/>
<rect x="586" y="904.5" width="139" height="5.0" fill="#f9f8fc"/>
<rect x="310" y="909.5" width="137.5" height="5.0" fill="#f9f8fc"/>
<rect x="447.5" y="909.5" width="138.5" height="5.0" fill="#fbf7f9"/>
<rect x="586" y="909.5" width="139" height="5.0" fill="#fbf7f9"/>
<rect x="310" y="914.5" width="137.5" height="5.0" fill="#f9f8fc"/>
<rect x="447.5" y="914.5" width="138.5" height="5.0" fill="#fbf7f9"/>
<rect x="586" y="914.5" width="139" height="5.0" fill="#fbf7f9"/>
<rect x="310" y="919.5" width="137.5" height="5.0" fill="#f9f8fc"/>
<rect x="447.5" y="919.5" width="138.5" height="5.0" fill="#fbf7f9"/>
<rect x="586" y="919.5" width="139" height="5.0" fill="#fbf7f9"/>
<rect x="310" y="924.5" width="137.5" height="5.0" fill="#f9f8fc"/>
<rect x="447.5" y="924.5" width="138.5" height="5.0" fill="#fbf7f9"/>
<rect x="586" y="924.5" width="139" height="5.0" fill="#fbf7f9"/>
</g>
<g transform="translate(408.5 139.6) rotate(-30)"><text x="0" y="0.0" font-size="25" text-anchor="middle">Glutamate/Malate</text></g>
<g transform="translate(520.1 128.6) rotate(-30)"><text x="0" y="0.0" font-size="25" text-anchor="middle">Succinate</text><text x="0" y="27.0" font-size="25" text-anchor="middle">(+Piericidin)</text></g>
<g transform="translate(683.6 124.8) rotate(-30)"><text x="0" y="0.0" font-size="25" text-anchor="middle">Ascorbate/TMPD</text><text x="0" y="27.0" font-size="25" text-anchor="middle">(+Antimycin)</text></g>
<text transform="translate(252.3 199.6) scale(1.035 1)" font-size="20" text-anchor="end">Central dogma</text>
<line x1="259.3" y1="197.6" x2="284.8" y2="197.6" stroke="#1b1b1b" stroke-width="2"/>
<polygon points="303.8,197.6 282.8,203.4 282.8,191.8" fill="#1b1b1b"/>
<text transform="translate(254.7 230.6) scale(1.035 1)" font-size="20" text-anchor="end">mtRNA metabolism</text>
<line x1="260.6" y1="227.9" x2="285.6" y2="227.9" stroke="#1b1b1b" stroke-width="2"/>
<polygon points="304.6,227.9 283.6,233.7 283.6,222.1" fill="#1b1b1b"/>
<text transform="translate(254.3 269.5) scale(1.035 1)" font-size="20" text-anchor="end">Translation</text>
<line x1="261.0" y1="269.1" x2="286.0" y2="269.1" stroke="#1b1b1b" stroke-width="2"/>
<polygon points="305.0,269.1 284.0,274.9 284.0,263.3" fill="#1b1b1b"/>
<text transform="translate(249.2 293.9) scale(1.035 1)" font-size="20" text-anchor="end">mt-tRNA synthetases</text>
<line x1="260.0" y1="287.3" x2="285.0" y2="287.3" stroke="#1b1b1b" stroke-width="2"/>
<polygon points="304.0,287.3 283.0,293.1 283.0,281.5" fill="#1b1b1b"/>
<text transform="translate(250.5 338.8) scale(1.035 1)" font-size="20" text-anchor="end">OXA</text>
<line x1="259.5" y1="331.8" x2="284.4" y2="330.7" stroke="#1b1b1b" stroke-width="2"/>
<polygon points="303.4,329.9 282.7,336.6 282.2,325.0" fill="#1b1b1b"/>
<text transform="translate(252.3 366.7) scale(1.035 1)" font-size="20" text-anchor="end">OXPHOS</text>
<line x1="261.0" y1="361.1" x2="286.0" y2="361.1" stroke="#1b1b1b" stroke-width="2"/>
<polygon points="305.0,361.1 284.0,366.9 284.0,355.3" fill="#1b1b1b"/>
<text transform="translate(253.9 386.8) scale(1.035 1)" font-size="20" text-anchor="end">CI</text>
<line x1="261.0" y1="380.0" x2="286.0" y2="380.0" stroke="#1b1b1b" stroke-width="2"/>
<polygon points="305.0,380.0 284.0,385.8 284.0,374.2" fill="#1b1b1b"/>
<text transform="translate(253.9 405.0) scale(1.035 1)" font-size="20" text-anchor="end">CII</text>
<line x1="260.0" y1="396.6" x2="285.5" y2="396.6" stroke="#1b1b1b" stroke-width="2"/>
<polygon points="304.5,396.6 283.5,402.4 283.5,390.8" fill="#1b1b1b"/>
<text transform="translate(251.8 423.9) scale(1.035 1)" font-size="20" text-anchor="end">CIII</text>
<line x1="260.0" y1="412.5" x2="285.0" y2="412.5" stroke="#1b1b1b" stroke-width="2"/>
<polygon points="304.0,412.5 283.0,418.3 283.0,406.7" fill="#1b1b1b"/>
<text transform="translate(254.4 442.3) scale(1.035 1)" font-size="20" text-anchor="end">CIV</text>
<line x1="259.5" y1="430.7" x2="284.5" y2="430.7" stroke="#1b1b1b" stroke-width="2"/>
<polygon points="303.5,430.7 282.5,436.5 282.5,424.9" fill="#1b1b1b"/>
<text transform="translate(254.4 460.2) scale(1.035 1)" font-size="20" text-anchor="end">Cyt c</text>
<line x1="259.5" y1="450.0" x2="284.5" y2="450.0" stroke="#1b1b1b" stroke-width="2"/>
<polygon points="303.5,450.0 282.5,455.8 282.5,444.2" fill="#1b1b1b"/>
<text transform="translate(252.5 648.8) scale(1.035 1)" font-size="20" text-anchor="end">Metals and cofactors</text>
<line x1="260.6" y1="646.5" x2="286.3" y2="646.5" stroke="#1b1b1b" stroke-width="2"/>
<polygon points="305.3,646.5 284.3,652.3 284.3,640.7" fill="#1b1b1b"/>
<text transform="translate(254.8 673.1) scale(1.035 1)" font-size="20" text-anchor="end">Coenzyme Q metabolism</text>
<line x1="262.0" y1="669.9" x2="287.0" y2="669.9" stroke="#1b1b1b" stroke-width="2"/>
<polygon points="306.0,669.9 285.0,675.7 285.0,664.1" fill="#1b1b1b"/>
<text transform="translate(251.9 710.8) scale(1.035 1)" font-size="20" text-anchor="end">Fe-S-containing proteins</text>
<line x1="262.0" y1="707.4" x2="287.0" y2="707.4" stroke="#1b1b1b" stroke-width="2"/>
<polygon points="306.0,707.4 285.0,713.2 285.0,701.6" fill="#1b1b1b"/>
<text transform="translate(251.9 741.9) scale(1.035 1)" font-size="20" text-anchor="end">Vitamin B1 metabolism</text>
<line x1="260.6" y1="737.3" x2="286.0" y2="737.3" stroke="#1b1b1b" stroke-width="2"/>
<polygon points="305.0,737.3 284.0,743.1 284.0,731.5" fill="#1b1b1b"/>
<text transform="translate(253.4 803.6) scale(1.035 1)" font-size="20" text-anchor="end">Cytochromes</text>
<line x1="261.0" y1="800.9" x2="286.0" y2="800.9" stroke="#1b1b1b" stroke-width="2"/>
<polygon points="305.0,800.9 284.0,806.7 284.0,795.1" fill="#1b1b1b"/>
<path d="M727,192.5 C742,192.5 749,195 749,203 L749,553 C749,559 755,561.5 771,561.5 C755,561.5 749,564 749,570 L749,922 C749,929 742,931.5 727,931.5" fill="none" stroke="#111" stroke-width="2.4"/>
<text x="783.2" y="570.2" font-size="24.6">147 Mitopathways</text>
<g shape-rendering="crispEdges">
<rect x="334.00" y="990.5" width="10.08" height="23.0" fill="#ffffff"/>
<rect x="343.58" y="990.5" width="10.08" height="23.0" fill="#fffbfb"/>
<rect x="353.17" y="990.5" width="10.08" height="23.0" fill="#fef6f6"/>
<rect x="362.75" y="990.5" width="10.08" height="23.0" fill="#fef2f2"/>
<rect x="372.33" y="990.5" width="10.08" height="23.0" fill="#fdedee"/>
<rect x="381.92" y="990.5" width="10.08" height="23.0" fill="#fde9ea"/>
<rect x="391.50" y="990.5" width="10.08" height="23.0" fill="#fce4e5"/>
<rect x="401.08" y="990.5" width="10.08" height="23.0" fill="#fce0e1"/>
<rect x="410.67" y="990.5" width="10.08" height="23.0" fill="#fbdcdd"/>
<rect x="420.25" y="990.5" width="10.08" height="23.0" fill="#fbd7d9"/>
<rect x="429.83" y="990.5" width="10.08" height="23.0" fill="#fad3d4"/>
<rect x="439.42" y="990.5" width="10.08" height="23.0" fill="#faced0"/>
<rect x="449.00" y="990.5" width="10.08" height="23.0" fill="#facacc"/>
<rect x="458.58" y="990.5" width="10.08" height="23.0" fill="#f9c5c8"/>
<rect x="468.17" y="990.5" width="10.08" height="23.0" fill="#f9c1c3"/>
<rect x="477.75" y="990.5" width="10.08" height="23.0" fill="#f8bdbf"/>
<rect x="487.33" y="990.5" width="10.08" height="23.0" fill="#f8b8bb"/>
<rect x="496.92" y="990.5" width="10.08" height="23.0" fill="#f7b4b7"/>
<rect x="506.50" y="990.5" width="10.08" height="23.0" fill="#f7afb2"/>
<rect x="516.08" y="990.5" width="10.08" height="23.0" fill="#f6abae"/>
<rect x="525.67" y="990.5" width="10.08" height="23.0" fill="#f6a6aa"/>
<rect x="535.25" y="990.5" width="10.08" height="23.0" fill="#f5a2a6"/>
<rect x="544.83" y="990.5" width="10.08" height="23.0" fill="#f59ea1"/>
<rect x="554.42" y="990.5" width="10.08" height="23.0" fill="#f4999d"/>
<rect x="564.00" y="990.5" width="10.08" height="23.0" fill="#f49599"/>
<rect x="573.58" y="990.5" width="10.08" height="23.0" fill="#f49095"/>
<rect x="583.17" y="990.5" width="10.08" height="23.0" fill="#f38c90"/>
<rect x="592.75" y="990.5" width="10.08" height="23.0" fill="#f3878c"/>
<rect x="602.33" y="990.5" width="10.08" height="23.0" fill="#f28388"/>
<rect x="611.92" y="990.5" width="10.08" height="23.0" fill="#f27f84"/>
<rect x="621.50" y="990.5" width="10.08" height="23.0" fill="#f17a7f"/>
<rect x="631.08" y="990.5" width="10.08" height="23.0" fill="#f1767b"/>
<rect x="640.67" y="990.5" width="10.08" height="23.0" fill="#f07177"/>
<rect x="650.25" y="990.5" width="10.08" height="23.0" fill="#f06d73"/>
<rect x="659.83" y="990.5" width="10.08" height="23.0" fill="#ef686e"/>
<rect x="669.42" y="990.5" width="10.08" height="23.0" fill="#ef646a"/>
</g>
<rect x="334.0" y="990.5" width="345.0" height="23.0" fill="none" stroke="#111" stroke-width="2"/>
<text x="702" y="1008" font-size="24.8">-log10 p-value</text>
<text x="327" y="1045" font-size="24">0</text>
<text x="663.5" y="1045" font-size="24">-17</text>
<g font-size="20" text-anchor="middle">
<text x="1229.4" y="64" font-size="20.6">Glutamate/Malate</text>
<text x="1454.4" y="53.2" font-size="20.4">Succinate</text>
<text x="1454.4" y="77.9" font-size="20.4">(+Piericidin)</text>
<text x="1667" y="50.4" font-size="20.3">Ascorbate/TMPD</text>
<text x="1667.3" y="75.5" font-size="20.3">(+Antimycin)</text>
<text x="1080.7" y="109.8">Rank</text>
<text x="1200.0" y="109.5">Gene name</text>
<text x="1295.0" y="106.5" word-spacing="2.2">&lt; Z &gt;</text>
<text x="1415.5" y="109.5">Gene name</text>
<text x="1511.0" y="106.5" word-spacing="2.2">&lt; Z &gt;</text>
<text x="1632.2" y="109.5">Gene name</text>
<text x="1727.0" y="106.5" word-spacing="2.2">&lt; Z &gt;</text>
<text x="1082.5" y="138.4">1</text>
<text x="1201.5" y="138.4" letter-spacing="0.5">NDUFA2</text>
<text x="1295.0" y="138.4">-13.75</text>
<text x="1418.0" y="138.4" letter-spacing="0.5">COA7</text>
<text x="1511.0" y="138.4">-11.21</text>
<text x="1634.0" y="138.4" letter-spacing="0.5">COA7</text>
<text x="1727.0" y="138.4">-10.96</text>
<text x="1082.5" y="167.1">2</text>
<text x="1201.5" y="167.1" letter-spacing="0.5">NDUFV1</text>
<text x="1295.0" y="167.1">-12.86</text>
<text x="1418.0" y="167.1" letter-spacing="0.5">COA6</text>
<text x="1511.0" y="167.1">-9.53</text>
<text x="1634.0" y="167.1" letter-spacing="0.5" style="fill:#cf2a35">DNM1L</text>
<text x="1727.0" y="167.1">-9.31</text>
<text x="1082.5" y="195.7">3</text>
<text x="1201.5" y="195.7" letter-spacing="0.5">NDUFAF1</text>
<text x="1295.0" y="195.7">-11.46</text>
<text x="1418.0" y="195.7" letter-spacing="0.5">COX15</text>
<text x="1511.0" y="195.7">-9.35</text>
<text x="1634.0" y="195.7" letter-spacing="0.5">PET117</text>
<text x="1727.0" y="195.7">-9.11</text>
<text x="1082.5" y="224.3">4</text>
<text x="1201.5" y="224.3" letter-spacing="0.5">COA7</text>
<text x="1295.0" y="224.3">-10.90</text>
<text x="1418.0" y="224.3" letter-spacing="0.5">COA5</text>
<text x="1511.0" y="224.3">-9.30</text>
<text x="1634.0" y="224.3" letter-spacing="0.5">CARS2</text>
<text x="1727.0" y="224.3">-8.82</text>
<text x="1082.5" y="253.0">5</text>
<text x="1201.5" y="253.0" letter-spacing="0.5">FOXRED1</text>
<text x="1295.0" y="253.0">-10.86</text>
<text x="1418.0" y="253.0" letter-spacing="0.5">TRIT1</text>
<text x="1511.0" y="253.0">-8.03</text>
<text x="1634.0" y="253.0" letter-spacing="0.5">COA6</text>
<text x="1727.0" y="253.0">-8.67</text>
<text x="1082.5" y="281.6">6</text>
<text x="1201.5" y="281.6" letter-spacing="0.5">NDUFS1</text>
<text x="1295.0" y="281.6">-10.75</text>
<text x="1418.0" y="281.6" letter-spacing="0.5">BCS1L</text>
<text x="1511.0" y="281.6">-7.99</text>
<text x="1634.0" y="281.6" letter-spacing="0.5">COA5</text>
<text x="1727.0" y="281.6">-7.42</text>
<text x="1082.5" y="310.3">7</text>
<text x="1201.5" y="310.3" letter-spacing="0.5">NDUFAF3</text>
<text x="1295.0" y="310.3">-10.54</text>
<text x="1418.0" y="310.3" letter-spacing="0.5">CYCS</text>
<text x="1511.0" y="310.3">-7.72</text>
<text x="1634.0" y="310.3" letter-spacing="0.5">FASTKD5</text>
<text x="1727.0" y="310.3">-7.41</text>
<text x="1082.5" y="338.9">8</text>
<text x="1201.5" y="338.9" letter-spacing="0.5">NDUFA1</text>
<text x="1295.0" y="338.9">-9.67</text>
<text x="1418.0" y="338.9" letter-spacing="0.5">COX16</text>
<text x="1511.0" y="338.9">-7.50</text>
<text x="1634.0" y="338.9" letter-spacing="0.5">COX15</text>
<text x="1727.0" y="338.9">-7.35</text>
<text x="1082.5" y="367.6">9</text>
<text x="1201.5" y="367.6" letter-spacing="0.5" style="fill:#cf2a35">LDLR</text>
<text x="1295.0" y="367.6">-9.29</text>
<text x="1418.0" y="367.6" letter-spacing="0.5">SCO1</text>
<text x="1511.0" y="367.6">-6.85</text>
<text x="1634.0" y="367.6" letter-spacing="0.5">DARS2</text>
<text x="1727.0" y="367.6">-6.93</text>
<text x="1082.5" y="396.2">10</text>
<text x="1201.5" y="396.2" letter-spacing="0.5">NDUFA13</text>
<text x="1295.0" y="396.2">-9.00</text>
<text x="1418.0" y="396.2" letter-spacing="0.5">DARS2</text>
<text x="1511.0" y="396.2">-6.76</text>
<text x="1634.0" y="396.2" letter-spacing="0.5">SCO1</text>
<text x="1727.0" y="396.2">-6.86</text>
<text x="1082.5" y="424.9">11</text>
<text x="1201.5" y="424.9" letter-spacing="0.5">NDUFS7</text>
<text x="1295.0" y="424.9">-8.89</text>
<text x="1418.0" y="424.9" letter-spacing="0.5">MRPS27</text>
<text x="1511.0" y="424.9">-6.70</text>
<text x="1634.0" y="424.9" letter-spacing="0.5">COX16</text>
<text x="1727.0" y="424.9">-6.63</text>
<text x="1082.5" y="453.5">12</text>
<text x="1201.5" y="453.5" letter-spacing="0.5">COQ4</text>
<text x="1295.0" y="453.5">-8.83</text>
<text x="1418.0" y="453.5" letter-spacing="0.5">CARS2</text>
<text x="1511.0" y="453.5">-6.58</text>
<text x="1634.0" y="453.5" letter-spacing="0.5">HCCS</text>
<text x="1727.0" y="453.5">-6.42</text>
<text x="1082.5" y="482.2">13</text>
<text x="1201.5" y="482.2" letter-spacing="0.5">NDUFA8</text>
<text x="1295.0" y="482.2">-8.64</text>
<text x="1418.0" y="482.2" letter-spacing="0.5">HARS2</text>
<text x="1511.0" y="482.2">-6.56</text>
<text x="1634.0" y="482.2" letter-spacing="0.5">YBEY</text>
<text x="1727.0" y="482.2">-6.38</text>
<text x="1082.5" y="510.9">14</text>
<text x="1201.5" y="510.9" letter-spacing="0.5">NDUFB5</text>
<text x="1295.0" y="510.9">-8.59</text>
<text x="1418.0" y="510.9" letter-spacing="0.5">COX6B1</text>
<text x="1511.0" y="510.9">-6.54</text>
<text x="1634.0" y="510.9" letter-spacing="0.5">PPA2</text>
<text x="1727.0" y="510.9">-6.36</text>
<text x="1082.5" y="539.5">15</text>
<text x="1201.5" y="539.5" letter-spacing="0.5">NDUFB9</text>
<text x="1295.0" y="539.5">-8.40</text>
<text x="1418.0" y="539.5" letter-spacing="0.5">COX17</text>
<text x="1511.0" y="539.5">-6.49</text>
<text x="1634.0" y="539.5" letter-spacing="0.5" style="fill:#cf2a35">MINOS1</text>
<text x="1727.0" y="539.5">-6.07</text>
<text x="1082.5" y="568.1">16</text>
<text x="1201.5" y="568.1" letter-spacing="0.5">CARS2</text>
<text x="1295.0" y="568.1">-8.30</text>
<text x="1418.0" y="568.1" letter-spacing="0.5">PET117</text>
<text x="1511.0" y="568.1">-6.42</text>
<text x="1634.0" y="568.1" letter-spacing="0.5">SCO2</text>
<text x="1727.0" y="568.1">-5.96</text>
<text x="1082.5" y="596.8">17</text>
<text x="1201.5" y="596.8" letter-spacing="0.5">NDUFA10</text>
<text x="1295.0" y="596.8">-8.27</text>
<text x="1418.0" y="596.8" letter-spacing="0.5">CYC1</text>
<text x="1511.0" y="596.8">-6.25</text>
<text x="1634.0" y="596.8" letter-spacing="0.5">GFM2</text>
<text x="1727.0" y="596.8">-5.87</text>
<text x="1082.5" y="625.4">18</text>
<text x="1201.5" y="625.4" letter-spacing="0.5">NDUFV2</text>
<text x="1295.0" y="625.4">-8.24</text>
<text x="1418.0" y="625.4" letter-spacing="0.5">MRPS10</text>
<text x="1511.0" y="625.4">-6.22</text>
<text x="1634.0" y="625.4" letter-spacing="0.5" style="fill:#cf2a35">DNAJC11</text>
<text x="1727.0" y="625.4">-5.79</text>
<text x="1082.5" y="654.1">19</text>
<text x="1201.5" y="654.1" letter-spacing="0.5">NDUFS5</text>
<text x="1295.0" y="654.1">-8.20</text>
<text x="1418.0" y="654.1" letter-spacing="0.5">UQCRC1</text>
<text x="1511.0" y="654.1">-6.21</text>
<text x="1634.0" y="654.1" letter-spacing="0.5">COX17</text>
<text x="1727.0" y="654.1">-5.63</text>
<text x="1082.5" y="682.8">20</text>
<text x="1201.5" y="682.8" letter-spacing="0.5">NDUFAF5</text>
<text x="1295.0" y="682.8">-8.10</text>
<text x="1418.0" y="682.8" letter-spacing="0.5">UQCRC2</text>
<text x="1511.0" y="682.8">-6.18</text>
<text x="1634.0" y="682.8" letter-spacing="0.5">LRPPRC</text>
<text x="1727.0" y="682.8">-5.48</text>
<text x="1082.5" y="711.4">21</text>
<text x="1201.5" y="711.4" letter-spacing="0.5">COX11</text>
<text x="1295.0" y="711.4">-7.98</text>
<text x="1418.0" y="711.4" letter-spacing="0.5">QRSL1</text>
<text x="1511.0" y="711.4">-6.17</text>
<text x="1634.0" y="711.4" letter-spacing="0.5">TRIT1</text>
<text x="1727.0" y="711.4">-5.35</text>
<text x="1082.5" y="740.0">22</text>
<text x="1201.5" y="740.0" letter-spacing="0.5">NDUFA9</text>
<text x="1295.0" y="740.0">-7.89</text>
<text x="1418.0" y="740.0" letter-spacing="0.5">YBEY</text>
<text x="1511.0" y="740.0">-6.08</text>
<text x="1634.0" y="740.0" letter-spacing="0.5">MIEF1</text>
<text x="1727.0" y="740.0">-5.30</text>
<text x="1082.5" y="768.7">23</text>
<text x="1201.5" y="768.7" letter-spacing="0.5">BCS1L</text>
<text x="1295.0" y="768.7">-7.76</text>
<text x="1418.0" y="768.7" letter-spacing="0.5">COX4I1</text>
<text x="1511.0" y="768.7">-6.04</text>
<text x="1634.0" y="768.7" letter-spacing="0.5" style="fill:#cf2a35">TXN2</text>
<text x="1727.0" y="768.7">-5.24</text>
<text x="1082.5" y="797.3">24</text>
<text x="1201.5" y="797.3" letter-spacing="0.5">NDUFC2</text>
<text x="1295.0" y="797.3">-7.74</text>
<text x="1418.0" y="797.3" letter-spacing="0.5">COX5A</text>
<text x="1511.0" y="797.3">-5.99</text>
<text x="1634.0" y="797.3" letter-spacing="0.5">GTPBP10</text>
<text x="1727.0" y="797.3">-5.22</text>
<text x="1082.5" y="826.0">25</text>
<text x="1201.5" y="826.0" letter-spacing="0.5">NDUFS2</text>
<text x="1295.0" y="826.0">-7.72</text>
<text x="1418.0" y="826.0" letter-spacing="0.5">SDHB</text>
<text x="1511.0" y="826.0">-5.93</text>
<text x="1634.0" y="826.0" letter-spacing="0.5">COX6B1</text>
<text x="1727.0" y="826.0">-5.22</text>
<text x="1082.5" y="854.6">26</text>
<text x="1201.5" y="854.6" letter-spacing="0.5">COA5</text>
<text x="1295.0" y="854.6">-7.47</text>
<text x="1418.0" y="854.6" letter-spacing="0.5">METTL17</text>
<text x="1511.0" y="854.6">-5.89</text>
<text x="1634.0" y="854.6" letter-spacing="0.5">MTIF2</text>
<text x="1727.0" y="854.6">-5.20</text>
<text x="1082.5" y="883.3">27</text>
<text x="1201.5" y="883.3" letter-spacing="0.5">COA6</text>
<text x="1295.0" y="883.3">-7.37</text>
<text x="1418.0" y="883.3" letter-spacing="0.5">PARS2</text>
<text x="1511.0" y="883.3">-5.88</text>
<text x="1634.0" y="883.3" letter-spacing="0.5">TFAM</text>
<text x="1727.0" y="883.3">-5.14</text>
<text x="1082.5" y="911.9">28</text>
<text x="1201.5" y="911.9" letter-spacing="0.5">NDUFB10</text>
<text x="1295.0" y="911.9">-7.31</text>
<text x="1418.0" y="911.9" letter-spacing="0.5">WBSCR16</text>
<text x="1511.0" y="911.9">-5.88</text>
<text x="1634.0" y="911.9" letter-spacing="0.5">MRPS27</text>
<text x="1727.0" y="911.9">-5.08</text>
<text x="1082.5" y="940.6">29</text>
<text x="1201.5" y="940.6" letter-spacing="0.5">ECSIT</text>
<text x="1295.0" y="940.6">-7.24</text>
<text x="1418.0" y="940.6" letter-spacing="0.5">COX6C</text>
<text x="1511.0" y="940.6">-5.88</text>
<text x="1634.0" y="940.6" letter-spacing="0.5">COX11</text>
<text x="1727.0" y="940.6">-4.87</text>
<text x="1082.5" y="969.2">30</text>
<text x="1201.5" y="969.2" letter-spacing="0.5">DARS2</text>
<text x="1295.0" y="969.2">-7.19</text>
<text x="1418.0" y="969.2" letter-spacing="0.5">MRPS16</text>
<text x="1511.0" y="969.2">-5.87</text>
<text x="1634.0" y="969.2" letter-spacing="0.5">PARS2</text>
<text x="1727.0" y="969.2">-4.87</text>
<text x="1082.5" y="997.9">31</text>
<text x="1201.5" y="997.9" letter-spacing="0.5">NDUFB2</text>
<text x="1295.0" y="997.9">-7.19</text>
<text x="1418.0" y="997.9" letter-spacing="0.5">GTPBP10</text>
<text x="1511.0" y="997.9">-5.63</text>
<text x="1634.0" y="997.9" letter-spacing="0.5">QRSL1</text>
<text x="1727.0" y="997.9">-4.77</text>
<text x="1082.5" y="1026.5">32</text>
<text x="1201.5" y="1026.5" letter-spacing="0.5">NDUFAF7</text>
<text x="1295.0" y="1026.5">-7.17</text>
<text x="1418.0" y="1026.5" letter-spacing="0.5">PPA2</text>
<text x="1511.0" y="1026.5">-5.61</text>
<text x="1634.0" y="1026.5" letter-spacing="0.5">COX19</text>
<text x="1727.0" y="1026.5">-4.77</text>
<text x="1082.5" y="1055.2">33</text>
<text x="1201.5" y="1055.2" letter-spacing="0.5">YBEY</text>
<text x="1295.0" y="1055.2">-7.13</text>
<text x="1418.0" y="1055.2" letter-spacing="0.5">COX11</text>
<text x="1511.0" y="1055.2">-5.55</text>
<text x="1634.0" y="1055.2" letter-spacing="0.5">VARS2</text>
<text x="1727.0" y="1055.2">-4.76</text>
<text x="1082.5" y="1083.8">34</text>
<text x="1201.5" y="1083.8" letter-spacing="0.5">NDUFS8</text>
<text x="1295.0" y="1083.8">-7.02</text>
<text x="1418.0" y="1083.8" letter-spacing="0.5">COX19</text>
<text x="1511.0" y="1083.8">-5.36</text>
<text x="1634.0" y="1083.8" letter-spacing="0.5">COX5A</text>
<text x="1727.0" y="1083.8">-4.76</text>
<text x="1082.5" y="1112.5">35</text>
<text x="1201.5" y="1112.5" letter-spacing="0.5">COX6C</text>
<text x="1295.0" y="1112.5">-6.94</text>
<text x="1418.0" y="1112.5" letter-spacing="0.5">MRPL3</text>
<text x="1511.0" y="1112.5">-5.29</text>
<text x="1634.0" y="1112.5" letter-spacing="0.5" style="fill:#cf2a35">SLC30A9</text>
<text x="1727.0" y="1112.5">-4.75</text>
<text x="1082.5" y="1141.2">36</text>
<text x="1201.5" y="1141.2" letter-spacing="0">C17orf89</text>
<text x="1295.0" y="1141.2">-6.77</text>
<text x="1418.0" y="1141.2" letter-spacing="-0.4">Non-cutting</text>
<text x="1511.0" y="1141.2">-5.21</text>
<text x="1634.0" y="1141.2" letter-spacing="0.5" style="fill:#cf2a35">MCAT</text>
<text x="1727.0" y="1141.2">-4.72</text>
<text x="1082.5" y="1169.8">37</text>
<text x="1201.5" y="1169.8" letter-spacing="0.5">NDUFB3</text>
<text x="1295.0" y="1169.8">-6.76</text>
<text x="1418.0" y="1169.8" letter-spacing="0.5">UQCR10</text>
<text x="1511.0" y="1169.8">-5.17</text>
<text x="1634.0" y="1169.8" letter-spacing="0.5">COX6C</text>
<text x="1727.0" y="1169.8">-4.68</text>
<text x="1082.5" y="1198.5">38</text>
<text x="1201.5" y="1198.5" letter-spacing="0.5">NUBPL</text>
<text x="1295.0" y="1198.5">-6.58</text>
<text x="1418.0" y="1198.5" letter-spacing="0.5">NSUN4</text>
<text x="1511.0" y="1198.5">-5.16</text>
<text x="1634.0" y="1198.5" letter-spacing="0.5">NSUN4</text>
<text x="1727.0" y="1198.5">-4.67</text>
<text x="1082.5" y="1227.1">39</text>
<text x="1201.5" y="1227.1" letter-spacing="0.5">NDUFA11</text>
<text x="1295.0" y="1227.1">-6.46</text>
<text x="1418.0" y="1227.1" letter-spacing="0.5">TFAM</text>
<text x="1511.0" y="1227.1">-5.11</text>
<text x="1634.0" y="1227.1" letter-spacing="0.5" style="fill:#cf2a35">RRAGC</text>
<text x="1727.0" y="1227.1">-4.65</text>
<text x="1082.5" y="1255.8">40</text>
<text x="1201.5" y="1255.8" letter-spacing="0.5">ATP5SL</text>
<text x="1295.0" y="1255.8">-6.43</text>
<text x="1418.0" y="1255.8" letter-spacing="0.5">RNMTL1</text>
<text x="1511.0" y="1255.8">-5.11</text>
<text x="1634.0" y="1255.8" letter-spacing="0.5">PET100</text>
<text x="1727.0" y="1255.8">-4.65</text>
<text x="1082.5" y="1284.4">41</text>
<text x="1201.5" y="1284.4" letter-spacing="0.5">COX16</text>
<text x="1295.0" y="1284.4">-6.37</text>
<text x="1418.0" y="1284.4" letter-spacing="0.5">FASTKD5</text>
<text x="1511.0" y="1284.4">-5.08</text>
<text x="1634.0" y="1284.4" letter-spacing="0.5">FARS2</text>
<text x="1727.0" y="1284.4">-4.64</text>
<text x="1082.5" y="1313.0">42</text>
<text x="1201.5" y="1313.0" letter-spacing="0.5">PET117</text>
<text x="1295.0" y="1313.0">-6.33</text>
<text x="1418.0" y="1313.0" letter-spacing="0.5">SCO2</text>
<text x="1511.0" y="1313.0">-5.00</text>
<text x="1634.0" y="1313.0" letter-spacing="0.5">SLIRP</text>
<text x="1727.0" y="1313.0">-4.62</text>
<text x="1082.5" y="1341.7">43</text>
<text x="1201.5" y="1341.7" letter-spacing="0.5">COX20</text>
<text x="1295.0" y="1341.7">-6.24</text>
<text x="1418.0" y="1341.7" letter-spacing="0.5">COX10</text>
<text x="1511.0" y="1341.7">-4.96</text>
<text x="1634.0" y="1341.7" letter-spacing="0.5">COA3</text>
<text x="1727.0" y="1341.7">-4.58</text>
<text x="1082.5" y="1370.4">44</text>
<text x="1201.5" y="1370.4" letter-spacing="0.5">NDUFS3</text>
<text x="1295.0" y="1370.4">-6.21</text>
<text x="1418.0" y="1370.4" letter-spacing="0.5">MIPEP</text>
<text x="1511.0" y="1370.4">-4.94</text>
<text x="1634.0" y="1370.4" letter-spacing="0.5">ISCA2</text>
<text x="1727.0" y="1370.4">-4.48</text>
<text x="1082.5" y="1399.0">45</text>
<text x="1201.5" y="1399.0" letter-spacing="0.5">UQCRC2</text>
<text x="1295.0" y="1399.0">-6.21</text>
<text x="1418.0" y="1399.0" letter-spacing="0.5">MTG1</text>
<text x="1511.0" y="1399.0">-4.89</text>
<text x="1634.0" y="1399.0" letter-spacing="0.5">COX10</text>
<text x="1727.0" y="1399.0">-4.48</text>
<text x="1082.5" y="1427.7">46</text>
<text x="1201.5" y="1427.7" letter-spacing="0.5">NDUFB11</text>
<text x="1295.0" y="1427.7">-6.03</text>
<text x="1418.0" y="1427.7" letter-spacing="0.5" style="fill:#cf2a35">NPC1</text>
<text x="1511.0" y="1427.7">-4.87</text>
<text x="1634.0" y="1427.7" letter-spacing="0.5">WARS2</text>
<text x="1727.0" y="1427.7">-4.48</text>
<text x="1082.5" y="1456.3">47</text>
<text x="1201.5" y="1456.3" letter-spacing="0.5">CYC1</text>
<text x="1295.0" y="1456.3">-5.98</text>
<text x="1418.0" y="1456.3" letter-spacing="0.5">COX7B</text>
<text x="1511.0" y="1456.3">-4.87</text>
<text x="1634.0" y="1456.3" letter-spacing="0.5">AIFM1</text>
<text x="1727.0" y="1456.3">-4.45</text>
<text x="1082.5" y="1485.0">48</text>
<text x="1201.5" y="1485.0" letter-spacing="0.5">MTRF1L</text>
<text x="1295.0" y="1485.0">-5.94</text>
<text x="1418.0" y="1485.0" letter-spacing="0.5">GFM2</text>
<text x="1511.0" y="1485.0">-4.86</text>
<text x="1634.0" y="1485.0" letter-spacing="0.5">COX4I1</text>
<text x="1727.0" y="1485.0">-4.45</text>
<text x="1082.5" y="1513.6">49</text>
<text x="1201.5" y="1513.6" letter-spacing="-0.4">Non-cutting</text>
<text x="1295.0" y="1513.6">-5.79</text>
<text x="1418.0" y="1513.6" letter-spacing="0.5">POLG2</text>
<text x="1511.0" y="1513.6">-4.83</text>
<text x="1634.0" y="1513.6" letter-spacing="0.5">COX7C</text>
<text x="1727.0" y="1513.6">-4.41</text>
<text x="1082.5" y="1542.2">50</text>
<text x="1201.5" y="1542.2" letter-spacing="0.5">NDUFB4</text>
<text x="1295.0" y="1542.2">-5.78</text>
<text x="1418.0" y="1542.2" letter-spacing="0.5">TFB1M</text>
<text x="1511.0" y="1542.2">-4.83</text>
<text x="1634.0" y="1542.2" letter-spacing="0.5">STARD7</text>
<text x="1727.0" y="1542.2">-4.41</text>
<text x="1082.5" y="1570.9">51</text>
<text x="1201.5" y="1570.9" letter-spacing="0.5">COX4I1</text>
<text x="1295.0" y="1570.9">-5.69</text>
<text x="1418.0" y="1570.9" letter-spacing="0.5" style="fill:#cf2a35">GTPBP6</text>
<text x="1511.0" y="1570.9">-4.80</text>
<text x="1634.0" y="1570.9" letter-spacing="-0.4">Non-cutting</text>
<text x="1727.0" y="1570.9">-4.39</text>
<text x="1082.5" y="1599.5">52</text>
<text x="1201.5" y="1599.5" letter-spacing="0.5">PTCD1</text>
<text x="1295.0" y="1599.5">-5.61</text>
<text x="1418.0" y="1599.5" letter-spacing="0.5">LRPPRC</text>
<text x="1511.0" y="1599.5">-4.74</text>
<text x="1634.0" y="1599.5" letter-spacing="0.5" style="fill:#cf2a35">GTPBP6</text>
<text x="1727.0" y="1599.5">-4.37</text>
<text x="1082.5" y="1628.2">53</text>
<text x="1201.5" y="1628.2" letter-spacing="0.5">NDUFB8</text>
<text x="1295.0" y="1628.2">-5.59</text>
<text x="1418.0" y="1628.2" letter-spacing="0.5">SDHC</text>
<text x="1511.0" y="1628.2">-4.70</text>
<text x="1634.0" y="1628.2" letter-spacing="0.5">WBSCR16</text>
<text x="1727.0" y="1628.2">-4.34</text>
<text x="1082.5" y="1656.8">54</text>
<text x="1201.5" y="1656.8" letter-spacing="0.5">RPUSD3</text>
<text x="1295.0" y="1656.8">-5.43</text>
<text x="1418.0" y="1656.8" letter-spacing="0.5">UQCC1</text>
<text x="1511.0" y="1656.8">-4.66</text>
<text x="1634.0" y="1656.8" letter-spacing="0.5">GATC</text>
<text x="1727.0" y="1656.8">-4.32</text>
<text x="1082.5" y="1685.5">55</text>
<text x="1201.5" y="1685.5" letter-spacing="0.5" style="fill:#cf2a35">SLC30A9</text>
<text x="1295.0" y="1685.5">-5.31</text>
<text x="1418.0" y="1685.5" letter-spacing="0.5">EARS2</text>
<text x="1511.0" y="1685.5">-4.62</text>
<text x="1634.0" y="1685.5" letter-spacing="0.5">PET112</text>
<text x="1727.0" y="1685.5">-4.14</text>
</g>
<text x="1069" y="1740.6" font-size="19"><tspan style="fill:#cf2a35">Red</tspan>: No known connection to OXPHOS / mitochondrial central dogma</text>
</svg></body></html>
